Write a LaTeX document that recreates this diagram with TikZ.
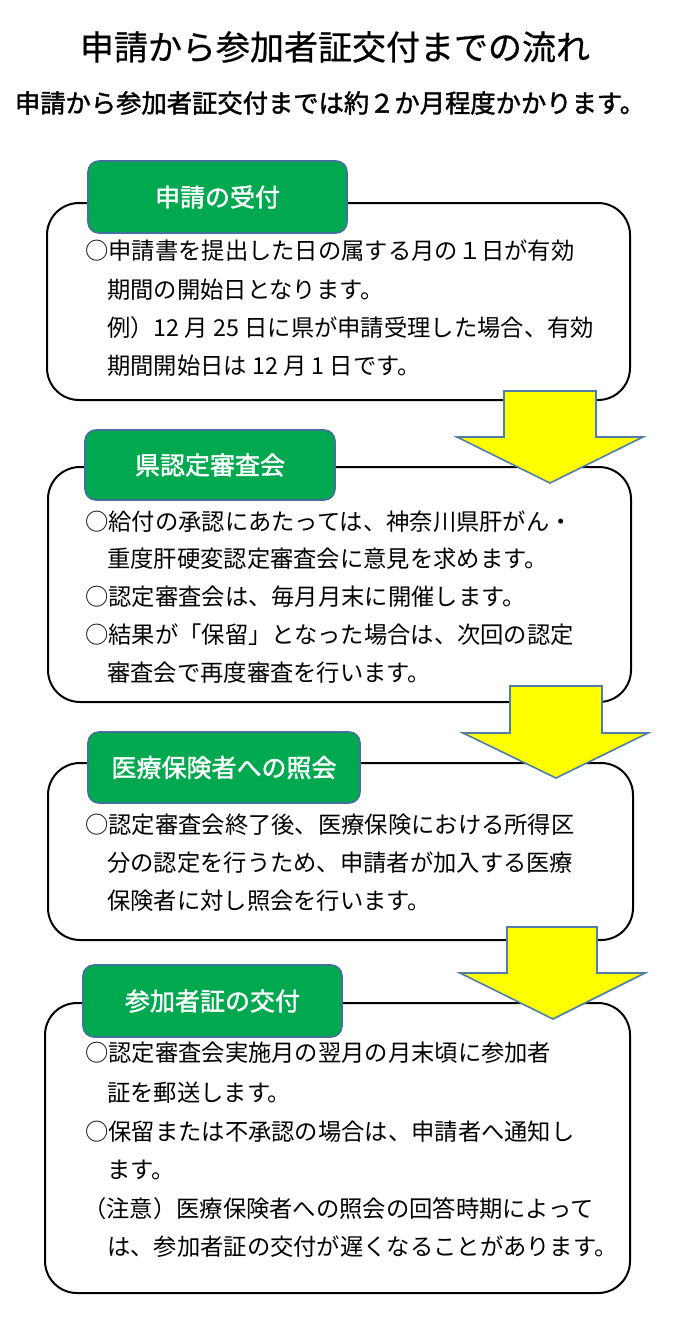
\documentclass[tikz,border=0pt]{standalone}
\usepackage{fontspec}
\setmainfont{Noto Sans CJK JP}
\newfontfamily\fakebold[FakeBold=1.6]{Noto Sans CJK JP}
\newfontfamily\fakelight[FakeBold=0.6]{Noto Sans CJK JP}
\definecolor{hdrgreen}{RGB}{0,168,80}
\definecolor{hdrborder}{RGB}{65,113,156}
\definecolor{arrowyellow}{RGB}{255,255,0}
\definecolor{arrowborder}{RGB}{80,126,168}
\tikzset{
  mainbox/.style={draw=black, line width=2pt, rounded corners=32pt, fill=white, inner sep=0pt},
  hdrbox/.style={draw=hdrborder, line width=1.6pt, rounded corners=11pt, fill=hdrgreen, inner sep=0pt,
     text=white, font=\fontsize{25}{30}\fakebold},
  bodyline/.style={anchor=west, inner sep=0pt, text height=0.88em, text depth=0.12em,
     font=\fontsize{23.3}{28}\selectfont},
  bigarrow/.style={fill=arrowyellow, draw=arrowborder, line width=1.6pt, line join=miter}
}
\begin{document}
\begin{tikzpicture}[x=1pt,y=-1pt]
\useasboundingbox[fill=white] (0,0) rectangle (675,1331);

% titles
\node[inner sep=0pt, font=\fontsize{34}{40}\fakelight] (title) at (335,47) {申請から参加者証交付までの流れ};
\node[inner sep=0pt, font=\fontsize{25.3}{30}\fakebold] (subtitle) at (330,103) {申請から参加者証交付までは約２か月程度かかります。};

% main boxes
\node[mainbox, minimum width=583pt, minimum height=197pt] (b1) at (338.5,301.5) {};
\node[mainbox, minimum width=583pt, minimum height=235pt] (b2) at (339.5,584.5) {};
\node[mainbox, minimum width=585pt, minimum height=177pt] (b3) at (340.5,851.5) {};
\node[mainbox, minimum width=585pt, minimum height=290pt] (b4) at (337.5,1148) {};

% headers
\node[hdrbox, minimum width=259pt, minimum height=72pt] (h1) at (217.5,197) {申請の受付};
\node[hdrbox, minimum width=250pt, minimum height=70pt] (h2) at (210,465) {県認定審査会};
\node[hdrbox, minimum width=272pt, minimum height=71pt] (h3) at (224,767.5) {医療保険者への照会};
\node[hdrbox, minimum width=259pt, minimum height=72pt] (h4) at (212.5,1001) {参加者証の交付};

% body text box 1
\node[bodyline] (t11) at (85,256) {○申請書を提出した日の属する月の１日が有効};
\node[bodyline] (t12) at (107,295) {期間の開始日となります。};
\node[bodyline] (t13) at (107,333) {例）12 月 25 日に県が申請受理した場合、有効};
\node[bodyline] (t14) at (107,371) {期間開始日は 12 月 1 日です。};

% body text box 2
\node[bodyline] (t21) at (85,527) {○給付の承認にあたっては、神奈川県肝がん・};
\node[bodyline] (t22) at (107,564) {重度肝硬変認定審査会に意見を求めます。};
\node[bodyline] (t23) at (85,602) {○認定審査会は、毎月月末に開催します。};
\node[bodyline] (t24) at (85,640) {○結果が「保留」となった場合は、次回の認定};
\node[bodyline] (t25) at (107,678) {審査会で再度審査を行います。};

% body text box 3
\node[bodyline] (t31) at (85,830) {○認定審査会終了後、医療保険における所得区};
\node[bodyline] (t32) at (107,868) {分の認定を行うため、申請者が加入する医療};
\node[bodyline] (t33) at (107,906) {保険者に対し照会を行います。};

% body text box 4
\node[bodyline] (t41) at (85,1058) {○認定審査会実施月の翌月の月末頃に参加者};
\node[bodyline] (t42) at (107,1098) {証を郵送します。};
\node[bodyline] (t43) at (85,1137) {○保留または不承認の場合は、申請者へ通知し};
\node[bodyline] (t44) at (107,1175) {ます。};
\node[bodyline] (t45) at (83,1214) {（注意）医療保険者への照会の回答時期によって};
\node[bodyline] (t46) at (107,1252) {は、参加者証の交付が遅くなることがあります。};

% arrows
\draw[bigarrow] (504,391) -- (596,391) -- (596,437) -- (643,437) -- (550,483) -- (457,437) -- (504,437) -- cycle;
\draw[bigarrow] (510,686) -- (602,686) -- (602,733) -- (648,733) -- (556,778) -- (463,733) -- (510,733) -- cycle;
\draw[bigarrow] (507,927) -- (597,927) -- (597,973) -- (645,973) -- (553,1019) -- (460,973) -- (507,973) -- cycle;
\end{tikzpicture}
\end{document}
